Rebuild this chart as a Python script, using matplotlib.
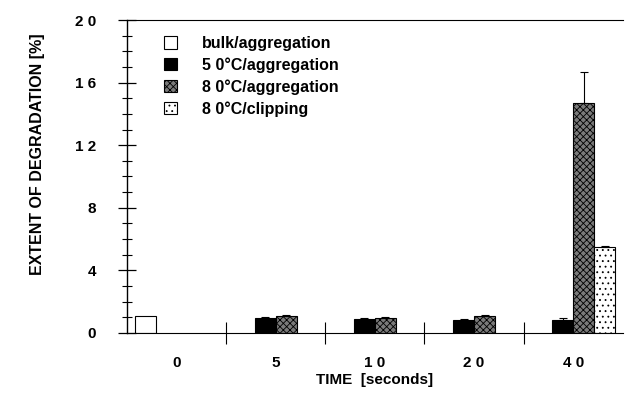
import matplotlib
import matplotlib.pyplot as plt
import numpy as np

matplotlib.rcParams.update({
    "font.family": ["Liberation Sans", "DejaVu Sans"],
    "font.weight": "bold",
    "font.size": 11,
    "hatch.linewidth": 0.6,
})

times = ["0", "5", "1 0", "2 0", "4 0"]
bulk_agg = [1.05, np.nan, np.nan, np.nan, np.nan]
c50_agg = [np.nan, 0.95, 0.9, 0.85, 0.85]
c80_agg = [np.nan, 1.05, 0.95, 1.05, 14.7]
c80_clip = [np.nan, np.nan, np.nan, np.nan, 5.5]
c50_err = [0, 0.05, 0.05, 0.05, 0.1]
c80_err = [0, 0.08, 0.05, 0.08, 2.0]
clip_err = [0, 0, 0, 0, 0.08]

labels = ["bulk/aggregation", "5 0\u00b0C/aggregation", "8 0\u00b0C/aggregation", "8 0\u00b0C/clipping"]

fig = plt.figure(figsize=(6.29, 3.93), dpi=100)
ax = fig.add_axes([0.202, 0.153, 0.788, 0.796])

x = np.arange(len(times))
w = 0.212

ekw = dict(capsize=3, elinewidth=0.8, capthick=0.8)
b0 = ax.bar(x - 1.5 * w, bulk_agg, w, facecolor="white", edgecolor="black", linewidth=0.8)
b1 = ax.bar(x - 0.5 * w, c50_agg, w, facecolor="black", edgecolor="black", linewidth=0.8,
            yerr=[np.zeros(5), c50_err], error_kw=ekw)
b2 = ax.bar(x + 0.5 * w, c80_agg, w, facecolor="#7a7a7a", edgecolor="black", hatch="xxxxx", linewidth=0.8,
            yerr=[np.zeros(5), c80_err], error_kw=ekw)
b3 = ax.bar(x + 1.5 * w, c80_clip, w, facecolor="white", edgecolor="black", hatch="...", linewidth=0.8,
            yerr=[np.zeros(5), clip_err], error_kw=ekw)

ax.set_xlim(-0.5, 4.5)
ax.set_ylim(0, 20)

ax.spines["right"].set_visible(False)
ax.spines["top"].set_linewidth(0.8)
ax.spines["left"].set_linewidth(1.0)
ax.spines["bottom"].set_linewidth(0.8)

ax.set_yticks([0, 4, 8, 12, 16, 20])
ax.set_yticklabels(["0", "4", "8", "1 2", "1 6", "2 0"])
ax.set_yticks(np.arange(0, 21, 1), minor=True)
ax.tick_params(axis="y", which="major", direction="inout", length=13, width=0.9, pad=16, labelsize=11)
ax.tick_params(axis="y", which="minor", direction="inout", length=7, width=0.8)

ax.set_xticks(x)
ax.set_xticklabels(times)
ax.set_xticks([0.5, 1.5, 2.5, 3.5], minor=True)
ax.tick_params(axis="x", which="major", length=0, pad=17, labelsize=11)
ax.tick_params(axis="x", which="minor", direction="inout", length=16, width=0.8)

ax.set_xlabel("TIME  [seconds]", fontsize=11, fontweight="bold", labelpad=2)
ax.set_ylabel("EXTENT OF DEGRADATION [%]", fontsize=11.5, fontweight="bold")
ax.yaxis.set_label_coords(-0.165, 0.57)

ax.legend([b0, b1, b2, b3], labels, loc="upper left", bbox_to_anchor=(0.045, 0.995),
          frameon=False, handlelength=0.8, handleheight=0.8, handletextpad=1.6,
          labelspacing=0.4, prop=dict(weight="bold", size=11.5))

plt.savefig("out.png", dpi=100)
plt.close()
